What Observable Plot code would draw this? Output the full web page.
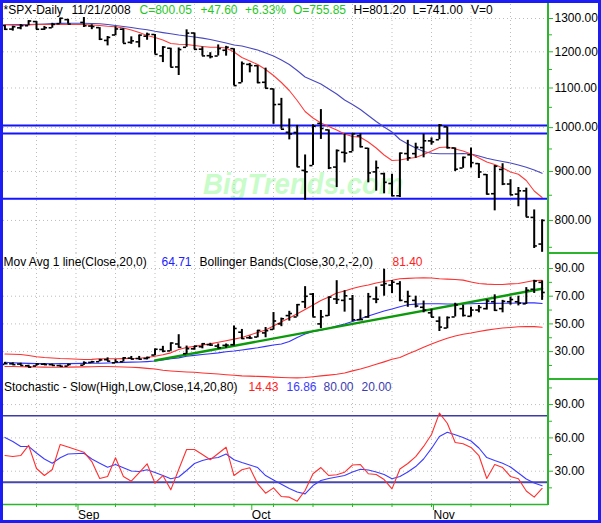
<!DOCTYPE html>
<html><head><meta charset="utf-8">
<script src="https://cdn.jsdelivr.net/npm/d3@7"></script>
<script src="https://cdn.jsdelivr.net/npm/@observablehq/plot@0.6"></script>
<style>
body{margin:0;background:#fff;}
#wrap{position:relative;width:601px;height:523px;overflow:hidden;background:#fff;font-family:Arial,"Liberation Sans",sans-serif;}
.panel{position:absolute;left:0;width:601px;}
.panel svg{position:absolute;left:0;top:0;}
.t{position:absolute;white-space:nowrap;font-size:12px;line-height:12px;font-family:Arial,"Liberation Sans",sans-serif;}
.wm{position:absolute;left:203px;top:169px;font:italic bold 30px Arial,"Liberation Sans",sans-serif;line-height:30px;color:#c8fcc8;transform:scaleX(0.92);transform-origin:left top;white-space:nowrap;}
.g{position:absolute;background:#2cb42c;}
#border{position:absolute;left:0;top:0;width:601px;height:523px;box-sizing:border-box;border:3px solid #1c1cf4;pointer-events:none;}
</style></head>
<body><div id="wrap"></div>
<script>
// ---------- data ----------
const dates = ["2008-08-19","2008-08-20","2008-08-21","2008-08-22",
"2008-08-25","2008-08-26","2008-08-27","2008-08-28","2008-08-29",
"2008-09-02","2008-09-03","2008-09-04","2008-09-05",
"2008-09-08","2008-09-09","2008-09-10","2008-09-11","2008-09-12",
"2008-09-15","2008-09-16","2008-09-17","2008-09-18","2008-09-19",
"2008-09-22","2008-09-23","2008-09-24","2008-09-25","2008-09-26",
"2008-09-29","2008-09-30","2008-10-01","2008-10-02","2008-10-03",
"2008-10-06","2008-10-07","2008-10-08","2008-10-09","2008-10-10",
"2008-10-13","2008-10-14","2008-10-15","2008-10-16","2008-10-17",
"2008-10-20","2008-10-21","2008-10-22","2008-10-23","2008-10-24",
"2008-10-27","2008-10-28","2008-10-29","2008-10-30","2008-10-31",
"2008-11-03","2008-11-04","2008-11-05","2008-11-06","2008-11-07",
"2008-11-10","2008-11-11","2008-11-12","2008-11-13","2008-11-14",
"2008-11-17","2008-11-18","2008-11-19","2008-11-20","2008-11-21"];

const spxOpen = [1278.7,1267.3,1271.1,1277.6, 1290.5,1267.0,1271.3,1283.8,1296.5, 1287.8,1276.6,1271.8,1233.2, 1249.5,1267.0,1227.5,1229.0,1245.9, 1250.9,1188.3,1210.3,1157.1,1213.1, 1255.4,1207.6,1188.8,1187.9,1204.5, 1209.1,1113.8,1164.2,1160.6,1115.2, 1097.6,1057.6,988.9,988.4,902.3, 912.8,1010.0,994.6,909.5,942.3, 943.5,980.4,951.7,899.1,895.2, 874.3,848.9,939.5,939.4,953.1, 968.7,971.3,1001.8,952.4,907.4, 936.8,917.2,893.4,853.1,904.4, 873.2,852.3,859.0,805.9,755.85];
const spxHigh = [1278.7,1276.0,1281.4,1293.1, 1290.5,1275.5,1285.1,1300.7,1297.6, 1303.0,1280.6,1271.8,1244.9, 1274.4,1268.7,1243.9,1249.0,1255.1, 1250.9,1214.8,1210.3,1211.1,1265.1, 1255.5,1214.0,1197.4,1220.0,1215.8, 1209.1,1171.0,1167.0,1160.6,1153.8, 1097.6,1072.9,1021.1,1005.3,936.4, 1006.9,1044.3,994.6,947.7,984.6, 985.4,985.4,951.7,922.8,896.3, 893.8,940.5,970.0,963.2,984.4, 975.6,1007.5,1001.8,952.4,931.5, 952.0,917.2,893.4,913.0,916.9, 882.3,865.9,864.6,820.5,801.2];
const spxLow = [1263.2,1261.2,1265.2,1277.6, 1264.9,1263.2,1270.0,1283.8,1282.7, 1272.2,1265.6,1232.8,1217.2, 1247.1,1224.5,1221.6,1211.5,1233.8, 1192.7,1169.3,1155.9,1133.5,1213.1, 1205.6,1187.8,1179.8,1187.9,1187.5, 1106.4,1113.8,1140.8,1111.4,1098.1, 1007.9,996.2,971.0,909.2,839.8, 912.8,972.1,904.0,865.8,918.7, 943.5,952.5,875.8,858.4,852.9, 846.8,845.3,922.3,928.9,930.0, 958.8,971.3,949.9,899.7,906.9, 907.5,884.9,850.5,818.7,869.9, 849.0,826.8,806.2,747.8,741.0];
const spxClose = [1266.7,1274.5,1277.7,1292.2, 1266.8,1271.5,1281.7,1300.7,1282.8, 1277.6,1275.0,1236.8,1242.3, 1267.8,1224.5,1232.0,1249.1,1251.7, 1192.7,1213.6,1156.4,1206.5,1255.1, 1207.1,1188.2,1185.9,1209.2,1213.3, 1106.4,1166.4,1161.1,1114.3,1099.2, 1056.9,996.2,984.9,909.9,899.2, 1003.4,998.0,907.8,946.4,940.6, 985.4,955.1,896.8,908.1,876.8, 848.9,940.5,930.1,954.1,968.8, 966.3,1005.8,952.8,904.9,931.0, 919.2,899.0,852.3,911.3,873.3, 850.8,859.1,806.6,752.45,800.05];
const spxMaFast = [1281.4,1279.9,1278.3,1279.9,1281.4,1281.4,1281.4,1281.4,1281.4, 1281.4,1279.9,1278.3,1275.8,1274.3,1270.6,1264.6,1257.0,1247.9, 1242.0,1234.5,1224.2,1221.8,1221.2,1218.3,1215.4,1213.3,1213.3,1211.0, 1199.4,1183.7,1173.8,1163.9,1150.0,1133.5,1114.6,1093.4,1067.4,1039.6, 1023.5,1011.2,1002.8,994.4,984.8,978.9,977.3,966.1,952.3,936.4, 924.1,925.2,928.5,930.7,937.5,945.4,953.4,954.6,950.0,945.4, 938.6,929.6,920.7,915.2,907.5,898.9,893.9,880.7,858.7,845.4];
const spxMaSlow = [1280.5,1281.0,1281.4,1281.4,1282.0,1283.0,1284.0,1285.0,1285.4, 1285.1,1284.5,1283.9,1281.4,1278.3,1275.2,1272.2,1268.5,1265.2, 1260.6,1256.7,1253.1,1249.4,1246.4,1243.5,1240.2,1236.0,1230.7,1225.4, 1219.8,1216.9,1211.0,1205.2,1196.5,1187.9,1176.6,1163.9,1147.2,1129.5, 1120.0,1110.6,1097.3,1084.2,1068.7,1057.2,1044.6,1029.6,1014.9,1001.6, 989.6,971.9,961.4,952.3,944.3,940.2,939.1,939.1,939.1,939.7, 938.6,934.1,929.0,925.2,921.8,918.5,914.1,909.1,903.2,896.3];
const priceLevels = [1005, 986, 843];

const vixOpen = [20.8,21.2,21.0,19.8, 19.6,20.9,20.6,19.9,19.5, 20.2,22.2,22.7,24.2, 21.9,22.7,25.3,25.0,25.0, 27.5,31.5,30.5,35.5,28.5, 32.0,33.5,35.0,34.0,34.5, 35.0,44.0,40.0,40.5,43.5, 46.0,50.0,56.0,55.0,66.0, 71.5,50.0,56.0,68.0,67.0, 68.0,53.0,55.0,68.0,78.0, 78.0,79.0,66.0,67.0,62.0, 58.0,52.0,47.0,55.0,61.0, 55.5,60.0,61.0,66.0,61.0, 66.0,66.0,64.5,75.0,80.0];
const vixHigh = [22.2,21.9,21.6,20.2, 21.3,21.4,21.0,20.2,20.9, 22.6,23.0,24.4,25.5, 24.2,25.6,26.5,26.5,26.0, 31.8,33.8,36.2,42.2,34.0, 33.9,35.8,36.0,35.5,35.5, 48.4,46.0,41.2,45.3,47.4, 58.2,54.2,59.1,64.0,76.9, 72.0,59.7,69.4,81.2,74.0, 70.5,60.0,72.0,76.6,89.5, 81.3,80.5,73.6,70.0,66.5, 60.5,55.0,55.0,64.9,63.5, 62.0,63.3,67.5,71.0,67.0, 69.4,70.0,76.2,81.5,81.0];
const vixLow = [20.6,20.3,19.9,18.6, 19.4,20.1,19.8,19.0,19.4, 20.0,21.6,22.6,22.9, 21.9,22.5,24.2,24.0,24.0, 27.0,29.2,30.2,32.5,28.0, 31.0,32.0,33.8,32.0,32.5, 34.0,38.8,38.8,40.0,40.0, 45.5,48.0,52.0,55.0,61.0, 54.8,46.6,55.4,64.0,58.5, 51.5,52.5,54.0,64.6,70.0, 72.0,66.0,62.0,61.5,58.0, 54.5,44.5,46.5,55.0,55.0, 55.0,58.0,60.0,59.0,58.0, 63.5,63.0,64.0,72.0,67.0];
const vixClose = [21.3,20.6,20.0,18.8, 21.0,20.6,20.0,19.4,20.7, 22.0,22.6,24.0,23.1, 22.6,25.5,24.6,24.5,25.7, 31.7,30.3,36.2,33.1,32.1, 33.9,35.7,34.7,32.8,34.7, 46.7,39.4,39.8,45.3,45.1, 52.1,53.7,57.5,63.9,69.95, 55.0,55.1,69.3,67.6,70.3, 53.0,53.1,69.7,67.8,79.1, 80.1,67.0,69.96,62.9,59.9, 54.9,47.7,54.6,63.7,56.1, 60.0,61.9,66.5,59.8,66.3, 67.6,65.0,74.3,80.9,72.7];
const vixMa20 = [22.3,22.0,21.7,21.5,21.3,21.3,21.2,21.3,21.3, 21.5,21.6,21.6,21.8,22.0,22.2,22.4,22.5,22.8, 23.2,24.0,24.8,25.5,26.6,27.3,27.9,28.5,29.1,29.9, 30.4,31.2,32.0,32.8,33.8,34.8,35.5,37.3,40.2,42.7, 44.5,45.4,46.8,48.5,49.9,51.7,53.7,55.7,57.5,59.3, 60.8,62.4,63.8,64.3,64.5,64.5,64.5,64.4,64.4,64.4, 64.6,64.7,64.8,64.8,64.9,64.9,65.1,65.2,65.2,64.71];
const bbUpper = [28.3,28.05,27.9,27.2,26.3,25.7,25.4,25.0,24.8, 24.3,24.4,24.8,24.8,24.8,24.9,25.0,25.2,25.7, 26.7,27.7,29.1,31.5,33.0,33.8,34.8,35.6,36.7,37.8, 39.0,40.2,42.0,43.8,45.6,48.5,51.5,54.3,57.3,60.4, 63.6,66.9,69.4,72.3,73.8,75.6,77.0,78.1,79.5,80.6, 81.5,82.6,82.9,83.1,83.2,83.1,82.6,82.3,82.1,81.6, 80.3,79.2,78.7,78.4,78.4,78.9,79.2,80.3,81.3,81.4];
const bbLower = [19.2,19.2,19.1,19.0,18.9,18.8,18.7,18.7,18.8, 18.95,19.1,19.2,19.2,19.1,18.9,18.7,18.4,17.9, 17.4,16.5,16.0,15.6,15.3,15.1,14.6,14.2,13.8,13.3, 12.9,12.5,12.3,12.1,11.9,11.6,11.3,11.1,11.0,11.3, 11.9,12.5,13.0,13.6,14.5,16.1,17.4,19.1,20.8,22.6, 24.5,25.8,28.3,30.6,33.1,35.5,37.7,39.7,41.3,42.5, 43.4,44.5,45.5,46.3,47.0,47.4,47.9,48.1,48.0,47.6];
const trendDates = ["2008-09-15","2008-11-21"];
const trendValues = [23.6, 75.4];

const stochK = [44.1,43.2,44.1,53.2,32.4,26.1,31.5,54.1,51.8, 47.1,38.7,23.4,25.2,42.1,25.2,21.0,28.8,36.7, 19.2,26.1,13.2,31.5,49.5,49.5,45.0,40.3,45.9,51.6, 26.1,31.3,33.1,18.6,10.2,15.0,7.2,6.6,3.0,12.6, 27.7,33.3,26.1,26.8,29.1,35.6,36.0,27.7,27.0,22.5, 14.1,32.0,36.9,43.2,52.3,63.1,82.3,73.2,55.9,54.7, 51.4,44.1,23.4,36.0,33.3,25.2,23.2,12.2,6.6,14.43];
const stochD = [60.4,56.8,52.3,52.3,46.4,41.0,37.2,42.1,45.5, 46.2,41.0,37.2,33.6,36.0,33.1,30.2,29.7,31.3, 28.8,26.1,23.2,24.8,30.6,36.9,39.6,41.4,42.3,45.5, 40.3,37.8,35.6,33.3,26.1,22.1,18.3,14.4,11.2,9.6, 17.1,21.6,23.4,24.8,26.1,29.3,31.8,31.1,29.3,27.0, 23.2,25.2,29.3,34.2,41.0,50.5,61.3,65.1,62.8,60.4, 57.2,50.9,42.3,39.6,37.1,33.8,28.4,23.0,19.4,16.86];
const stochLevels = [80, 20];

const priceTicks = [800,900,1000,1100,1200,1300];
const priceMinorTicks = [750,850,950,1050,1150,1250];
const vixTicks = [30,50,70,90];
const vixMinorTicks = [20,40,60,80];
const stochTicks = [30,60,90];
const stochMinorTicks = [15,45,75,105];
const weekTickDates = ["2008-08-25","2008-09-01","2008-09-08","2008-09-15","2008-09-22","2008-09-29","2008-10-06","2008-10-13","2008-10-20","2008-10-27","2008-11-03","2008-11-10","2008-11-17"];
const monthTickDates = ["2008-09-01","2008-10-01","2008-11-03"];
const monthLabels = ["Sep","Oct","Nov"];

// ---------- helpers ----------
const origin = Date.UTC(2008,7,18);
function wk(s){const [y,m,d]=s.split("-").map(Number);const days=Math.round((Date.UTC(y,m-1,d)-origin)/864e5);return Math.floor(days/7)*5+days%7;}
const green = "#2cb42c";
const gridStyle = {stroke:"#bdbdbd", strokeDasharray:"1,3", strokeWidth:1};
const X = {domain:[1,69], range:[4.4,541.6], label:null};
const svgStyle = {background:"transparent", fontFamily:"Arial, 'Liberation Sans', sans-serif", fontSize:"12px", overflow:"visible"};
const weekK = weekTickDates.map(wk);
const monthK = monthTickDates.map(wk);
const fmt2 = d => d.toFixed(2);

function ohlcMarks(rows){
  return [
    Plot.ruleX(rows,{x:"k",y1:"l",y2:"h",stroke:"#000",strokeWidth:2,clip:true}),
    Plot.ruleY(rows,{y:"o",x1:d=>d.k-0.4,x2:"k",stroke:"#000",strokeWidth:1.6,clip:true}),
    Plot.ruleY(rows,{y:"c",x1:"k",x2:d=>d.k+0.4,stroke:"#000",strokeWidth:1.6,clip:true})
  ];
}
function rightAxis(major, minor){
  return [
    Plot.axisY(minor,{anchor:"right",tickSize:3,tickFormat:()=>"",stroke:green,fill:"#000",label:null}),
    Plot.axisY(major,{anchor:"right",tickSize:4,tickFormat:()=>"",stroke:green,fill:"#000",label:null}),
    Plot.text(major,{y:d=>d,text:fmt2,frameAnchor:"right",textAnchor:"start",dx:6,fill:"#000",fontSize:12})
  ];
}

const spx = dates.map((d,i)=>({k:wk(d),o:spxOpen[i],h:spxHigh[i],l:spxLow[i],c:spxClose[i],f:spxMaFast[i],s:spxMaSlow[i]}));
const vix = dates.map((d,i)=>({k:wk(d),o:vixOpen[i],h:vixHigh[i],l:vixLow[i],c:vixClose[i],ma:vixMa20[i],up:bbUpper[i],lo:bbLower[i]}));
const sto = dates.map((d,i)=>({k:wk(d),pk:stochK[i],pd:stochD[i]}));
const trend = trendDates.map((d,i)=>({k:wk(d),v:trendValues[i]}));

const wrap = document.getElementById("wrap");
function addDiv(cls, css, html){const e=document.createElement("div");e.className=cls;Object.assign(e.style,css);if(html!=null)e.textContent=html;wrap.appendChild(e);return e;}

// watermark below panel 1
addDiv("wm",{}, "BigTrends.com");

// ---------- panel 1 ----------
const p1 = Plot.plot({
  width:601, height:253, marginLeft:3, marginRight:53, marginTop:0, marginBottom:0,
  style:svgStyle,
  x:{...X, axis:null},
  y:{type:"log", domain:[738.9,1357.5], range:[253,0], label:null},
  marks:[
    Plot.ruleY(priceTicks,gridStyle),
    Plot.ruleX(weekK,gridStyle),
    Plot.ruleY(priceLevels,{stroke:"#1414ff",strokeWidth:2}),
    Plot.line(spx,{x:"k",y:"s",stroke:"#4848c0",strokeWidth:1.1,clip:true}),
    Plot.line(spx,{x:"k",y:"f",stroke:"#ff3c3c",strokeWidth:1.1,clip:true}),
    ...ohlcMarks(spx),
    ...rightAxis(priceTicks, priceMinorTicks)
  ]
});
const d1 = addDiv("panel",{top:"0px",height:"253px"}); d1.appendChild(p1);

// ---------- panel 2 ----------
const p2 = Plot.plot({
  width:601, height:126, marginLeft:3, marginRight:53, marginTop:0, marginBottom:0,
  style:svgStyle,
  x:{...X, axis:null},
  y:{domain:[9.86,100.83], range:[126,0], label:null},
  marks:[
    Plot.ruleY(vixTicks,gridStyle),
    Plot.ruleX(weekK,gridStyle),
    Plot.line(vix,{x:"k",y:"up",stroke:"#ff3030",strokeWidth:1.1,clip:true}),
    Plot.line(vix,{x:"k",y:"lo",stroke:"#ff3030",strokeWidth:1.1,clip:true}),
    Plot.line(vix,{x:"k",y:"ma",stroke:"#3030ff",strokeWidth:1.1,clip:true}),
    Plot.line(trend,{x:"k",y:"v",stroke:"#0a9a0a",strokeWidth:2.4,clip:true}),
    ...ohlcMarks(vix),
    ...rightAxis(vixTicks, vixMinorTicks)
  ]
});
const d2 = addDiv("panel",{top:"253px",height:"126px"}); d2.appendChild(p2);

// ---------- panel 3 ----------
const p3 = Plot.plot({
  width:601, height:144, marginLeft:3, marginRight:53, marginTop:0, marginBottom:19,
  style:svgStyle,
  x:{...X},
  y:{domain:[0,112.6], range:[125,0], label:null},
  marks:[
    Plot.ruleY(stochTicks,gridStyle),
    Plot.ruleX(weekK,gridStyle),
    Plot.ruleY([stochLevels[0]],{stroke:"#3c3ca8",strokeWidth:1.4}),
    Plot.ruleY([stochLevels[1]],{stroke:"#4848a8",strokeWidth:2}),
    Plot.line(sto,{x:"k",y:"pd",stroke:"#3c3cff",strokeWidth:1.1,clip:true}),
    Plot.line(sto,{x:"k",y:"pk",stroke:"#ff3030",strokeWidth:1.1,clip:true}),
    Plot.ruleY([0],{stroke:green,strokeWidth:1.5}),
    ...rightAxis(stochTicks, stochMinorTicks),
    Plot.axisX(weekK,{anchor:"bottom",tickSize:3,tickFormat:()=>"",stroke:green,fill:"#000",label:null}),
    Plot.axisX(monthK,{anchor:"bottom",tickSize:6,tickPadding:0,tickFormat:d=>monthLabels[monthK.indexOf(d)],textAnchor:"start",dx:2,stroke:green,fill:"#000",fontSize:12,label:null})
  ]
});
const d3p = addDiv("panel",{top:"379px",height:"144px"}); d3p.appendChild(p3);

// ---------- axis frame lines ----------
addDiv("g",{left:"547px",top:"3px",width:"2px",height:"502px"});
addDiv("g",{left:"548px",top:"252px",width:"50px",height:"2px"});
addDiv("g",{left:"548px",top:"378px",width:"50px",height:"2px"});

// ---------- texts ----------
const T = (x,top,txt,color)=>addDiv("t",{left:x+"px",top:top+"px",color:color},txt);
const G = "#1ec81e";
T(3.5,3.8,"*SPX-Daily","#000");
T(71.5,3.8,"11/21/2008","#000");
T(139.5,3.8,"C=800.05",G);
T(200.5,3.8,"+47.60",G);
T(245,3.8,"+6.33%",G);
T(293,3.8,"O=755.85",G);
T(353.5,3.8,"H=801.20","#000");
T(412.5,3.8,"L=741.00","#000");
T(471,3.8,"V=0","#000");

T(3.5,255.8,"Mov Avg 1 line(Close,20,0)","#000");
T(161.5,255.8,"64.71","#2020ff");
T(199.5,255.8,"Bollinger Bands(Close,30,2,-2,0)","#000");
T(392.5,255.8,"81.40","#ff2020");

T(4,380.8,"Stochastic - Slow(High,Low,Close,14,20,80)","#000");
T(248.5,380.8,"14.43","#ff2020");
T(286.5,380.8,"16.86","#3c3cff");
T(323.5,380.8,"80.00","#3c3cb0");
T(361.5,380.8,"20.00","#3c3cb0");

addDiv("",{},null).id="border";
</script></body></html>
